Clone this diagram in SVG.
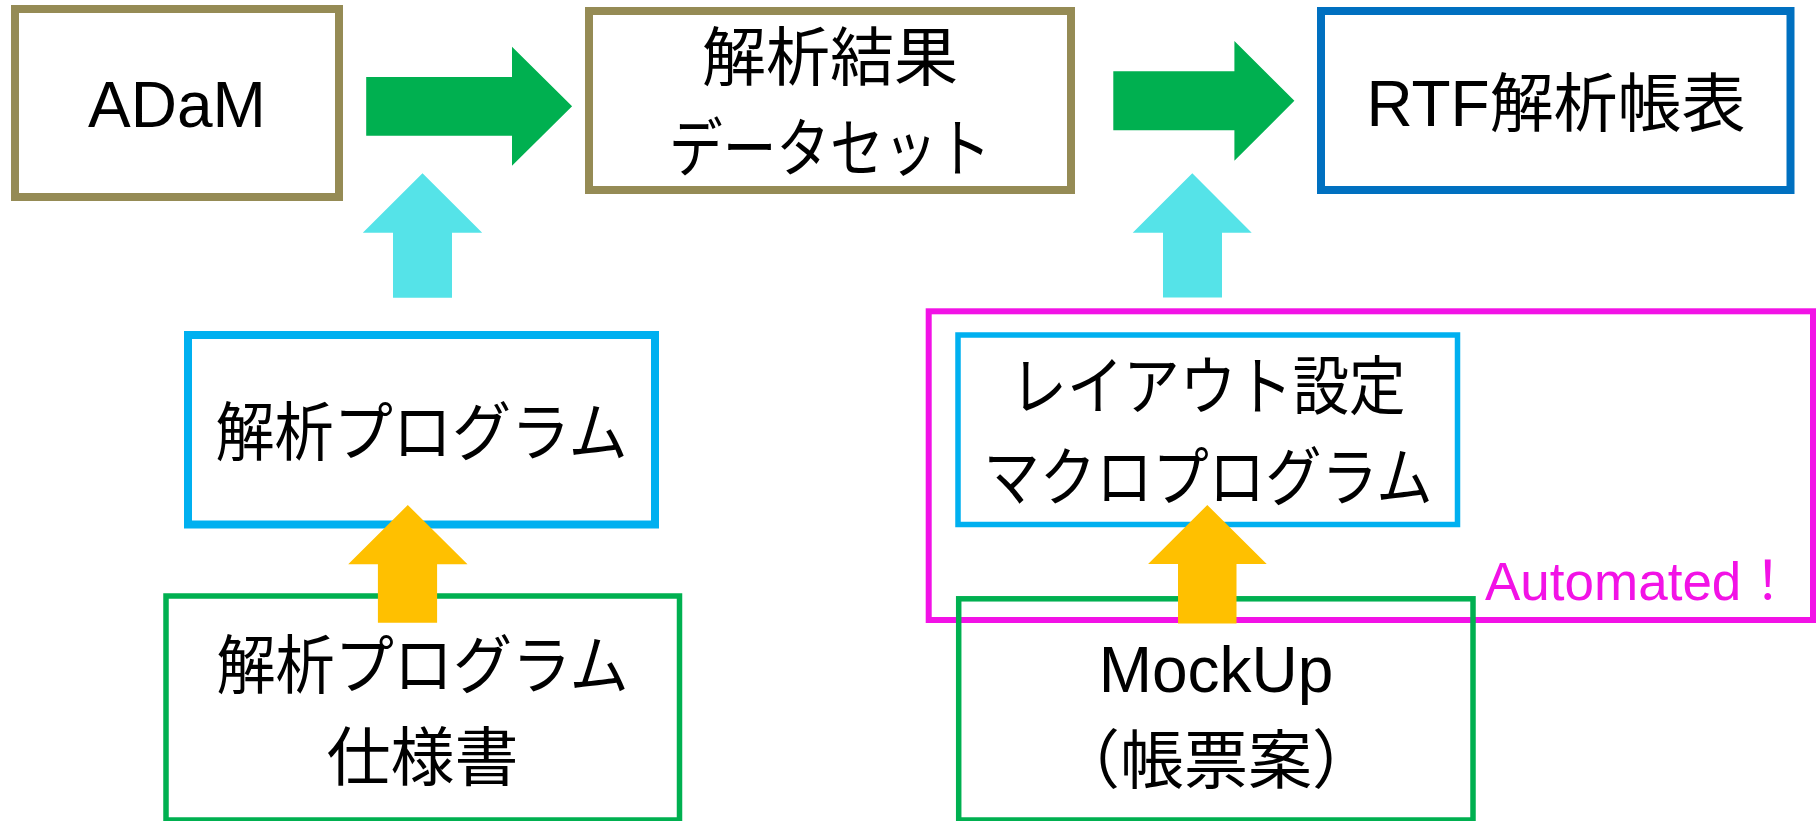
<svg xmlns="http://www.w3.org/2000/svg" width="1816" height="821" viewBox="0 0 1816 821">
<style>
  .bg{fill:#ffffff}
  .box{fill:#ffffff}
  .open{fill:none}
  .olive{stroke:#958B55;stroke-width:8}
  .rtf{stroke:#0070C0;stroke-width:8}
  .lb8{stroke:#00B0F0;stroke-width:8}
  .lb6{stroke:#00B0F0;stroke-width:5.5}
  .grn{stroke:#00B050;stroke-width:5.5}
  .mag{fill:none;stroke:#F212E6;stroke-width:6}
  .t{font-family:"Liberation Sans","Noto Sans CJK JP",sans-serif;font-size:64px;fill:#000000;text-anchor:middle}
  .auto{font-family:"Liberation Sans","Noto Sans CJK JP",sans-serif;font-size:53px;fill:#F212E6}
  .ga{fill:#00B050}
  .ca{fill:#55E3E8}
  .oa{fill:#FFC000}
</style>
<rect class="bg" x="0" y="0" width="1816" height="821"/>

<g id="adam">
  <rect class="box olive" x="15" y="9" width="324" height="188"/>
  <text class="t" x="177" y="127">ADaM</text>
</g>

<g id="result-dataset">
  <rect class="box olive" x="589" y="11" width="482" height="179"/>
  <text class="t" x="830" y="80">解析結果</text>
  <text class="t" x="830" y="171" textLength="322" lengthAdjust="spacingAndGlyphs">データセット</text>
</g>

<g id="rtf-table">
  <rect class="box rtf" x="1321" y="11" width="469.5" height="179"/>
  <text class="t" x="1556" y="126">RTF解析帳表</text>
</g>

<g id="analysis-program">
  <rect class="box lb8" x="188" y="335" width="467" height="189.5"/>
  <text class="t" x="421.5" y="455" textLength="412" lengthAdjust="spacingAndGlyphs">解析プログラム</text>
</g>

<g id="program-spec">
  <rect class="box grn" x="166" y="596" width="513.5" height="224"/>
  <text class="t" x="422.5" y="688" textLength="412" lengthAdjust="spacingAndGlyphs">解析プログラム</text>
  <text class="t" x="422.5" y="780">仕様書</text>
</g>

<g id="automated">
  <rect class="mag" x="928.7" y="311.3" width="884.3" height="308.7"/>
  <text class="auto" x="1485" y="600">Automated！</text>
</g>

<g id="layout-macro">
  <rect class="box lb6" x="958" y="335" width="499.5" height="189.5"/>
  <text class="t" x="1208" y="409" textLength="395" lengthAdjust="spacingAndGlyphs">レイアウト設定</text>
  <text class="t" x="1208" y="500" textLength="449" lengthAdjust="spacingAndGlyphs">マクロプログラム</text>
</g>

<g id="mockup">
  <rect class="open grn" x="958.7" y="598.8" width="514.3" height="221.2"/>
  <text class="t" x="1216" y="691.7">MockUp</text>
  <text class="t" x="1216" y="783">（帳票案）</text>
</g>

<g id="connectors">
  <polygon class="ga" points="366.2,77 512,77 512,46.7 572.1,106.3 512,165.7 512,135.7 366.2,135.7"/>
  <polygon class="ga" points="1113.3,71.3 1234.4,71.3 1234.4,41 1294.4,100.8 1234.4,160.8 1234.4,130.2 1113.3,130.2"/>
  <polygon class="ca" points="422.5,173.3 482.2,232.7 452,232.7 452,297.7 393,297.7 393,232.7 362.8,232.7"/>
  <polygon class="ca" points="1192.3,173.3 1251.7,232.7 1222,232.7 1222,297.5 1163,297.5 1163,232.7 1132.7,232.7"/>
  <polygon class="oa" points="407.8,505 467.5,564.3 437.1,564.3 437.1,622.7 377.9,622.7 377.9,564.3 348.2,564.3"/>
  <polygon class="oa" points="1207.3,505 1266.7,564 1236.5,564 1236.5,623.4 1178,623.4 1178,564 1148.1,564"/>
</g>
</svg>
